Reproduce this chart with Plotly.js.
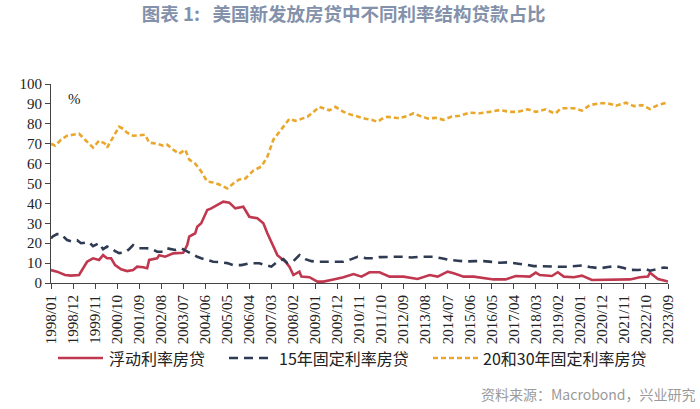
<!DOCTYPE html>
<html>
<head>
<meta charset="utf-8">
<script src="https://cdn.plot.ly/plotly-3.0.1.min.js"></script>
<style>
html,body{margin:0;padding:0;background:#fff;}
#chart{width:700px;height:409px;}
</style>
</head>
<body>
<div id="chart"></div>
<script>
// x-axis tick labels (every 11 months)
const tickLabels = ['1998/01','1998/12','1999/11','2000/10','2001/09','2002/08','2003/07','2004/06','2005/05','2006/04','2007/03','2008/02','2009/01','2009/12','2010/11','2011/10','2012/09','2013/08','2014/07','2015/06','2016/05','2017/04','2018/03','2019/02','2020/01','2020/12','2021/11','2022/10','2023/09'];

// series names
const seriesNames = ['浮动利率房贷','15年固定利率房贷','20和30年固定利率房贷'];

// 浮动利率房贷
const floatDates = ['1998/01','1998/04','1998/08','1998/11','1999/03','1999/04','1999/07','1999/10','2000/01','2000/03','2000/05','2000/07','2000/09','2000/12','2001/03','2001/06','2001/08','2001/11','2002/01','2002/02','2002/06','2002/07','2002/10','2003/02','2003/07','2003/09','2003/10','2004/01','2004/02','2004/04','2004/07','2004/09','2004/12','2005/03','2005/06','2005/09','2006/01','2006/04','2006/08','2006/11','2007/01','2007/04','2007/06','2007/10','2007/12','2008/02','2008/05','2008/06','2008/10','2009/02','2009/05','2009/10','2010/03','2010/08','2010/12','2011/04','2011/09','2012/02','2012/09','2013/04','2013/10','2014/02','2014/07','2014/10','2015/03','2015/08','2016/03','2016/06','2016/12','2017/05','2017/12','2018/03','2018/05','2018/11','2019/02','2019/05','2019/10','2020/02','2020/07','2021/01','2021/08','2022/02','2022/07','2022/11','2022/12','2023/04','2023/07','2023/09'];
const floatVals = [6.5,5.7,4.0,3.7,4.0,5.7,10.7,12.4,11.6,14.0,12.4,12.4,9.0,6.9,6.0,6.5,8.2,7.9,7.4,11.6,12.4,14.0,13.2,14.9,15.2,19.1,23.3,25.0,28.3,30.0,36.7,37.5,39.2,40.9,40.4,37.5,38.3,33.3,32.5,30.0,25.0,18.3,14.0,10.7,8.2,4.0,5.7,3.2,2.9,0.7,0.7,1.8,2.9,4.5,3.2,5.4,5.4,3.2,3.2,2.0,4.0,3.2,5.7,4.9,3.2,3.2,2.4,1.8,1.8,3.5,3.2,5.2,4.0,3.5,5.4,3.2,2.9,3.7,1.5,1.5,1.5,1.8,2.9,3.2,5.2,2.0,1.2,0.7];

// 15年固定利率房贷
const fix15Dates = ['1998/01','1998/02','1998/04','1998/06','1998/09','1998/11','1999/02','1999/04','1999/08','1999/10','2000/01','2000/03','2000/05','2000/07','2000/09','2000/11','2001/02','2001/04','2001/06','2001/09','2001/12','2002/03','2002/06','2002/09','2002/11','2003/03','2003/06','2003/09','2003/11','2004/02','2004/04','2004/07','2004/10','2005/01','2005/05','2005/08','2005/12','2006/04','2006/09','2006/12','2007/03','2007/06','2007/09','2007/11','2008/02','2008/05','2008/08','2008/11','2009/02','2009/08','2010/03','2010/07','2010/10','2011/02','2011/06','2011/09','2012/01','2012/05','2012/09','2013/01','2013/05','2013/09','2013/12','2014/04','2014/08','2014/12','2015/04','2015/09','2016/01','2016/05','2016/09','2017/01','2017/06','2017/10','2018/02','2018/06','2018/10','2019/02','2019/07','2019/10','2020/02','2020/06','2020/11','2021/03','2021/07','2021/11','2022/02','2022/06','2022/10','2022/12','2023/03','2023/07','2023/09'];
const fix15Vals = [22.4,23.5,24.6,24.5,21.6,21.0,21.5,20.0,20.5,18.5,20.0,17.0,18.3,17.5,16.0,15.0,15.5,17.0,19.0,17.5,17.5,17.3,15.7,15.7,17.4,16.6,17.4,15.7,14.5,13.2,12.4,11.5,10.7,10.5,10.0,9.0,9.0,9.9,9.9,9.0,8.2,10.7,12.0,10.0,11.0,14.0,12.0,11.0,10.7,10.7,10.7,12.0,13.2,12.5,12.4,13.0,13.2,13.2,13.2,12.8,13.2,13.2,13.2,12.4,11.6,11.2,10.8,11.0,11.0,10.6,10.2,10.4,9.9,9.2,8.5,8.3,8.3,8.2,8.2,8.4,8.8,8.0,7.4,8.0,8.5,7.5,6.6,6.5,6.9,6.2,7.0,7.8,7.5];

// 20和30年固定利率房贷
const fix30Dates = ['1998/01','1998/03','1998/06','1998/09','1998/12','1999/03','1999/06','1999/10','2000/01','2000/04','2000/05','2000/08','2000/11','2001/01','2001/03','2001/06','2001/10','2001/12','2002/02','2002/06','2002/09','2002/11','2003/02','2003/05','2003/08','2003/10','2004/01','2004/04','2004/07','2004/10','2005/01','2005/03','2005/05','2005/08','2005/11','2006/02','2006/06','2006/10','2007/01','2007/04','2007/07','2007/10','2007/12','2008/03','2008/07','2008/09','2009/03','2009/06','2009/08','2009/11','2010/03','2010/07','2010/10','2011/02','2011/05','2011/08','2011/11','2012/01','2012/05','2012/07','2012/11','2013/02','2013/05','2013/09','2014/01','2014/05','2014/09','2015/01','2015/06','2015/11','2016/04','2016/09','2017/02','2017/06','2017/11','2018/03','2018/08','2018/11','2019/01','2019/03','2019/05','2019/10','2020/02','2020/06','2020/11','2021/03','2021/07','2021/12','2022/04','2022/08','2022/12','2023/04','2023/09'];
const fix30Vals = [70,69,72,74,74.5,75,72,68,71.5,70,68,73,78.5,77.5,75.5,74,74.5,74.5,70.5,70,69,69.5,67,65,67,62,60,56,51,50.5,49.5,48.5,47.5,50,52,52.5,56.5,58.5,63.5,72,76,80,82.5,81.5,83,83.5,88.5,87.5,86.8,88.5,86,84.5,83.5,82.5,82,81,83,83.5,83,82.8,84,85.3,84,82.7,83,82,83.6,84,85.6,85.3,86,86.9,86,86,87.3,86,87.3,85.8,85.3,87.3,87.8,87.8,86.6,89.4,90.3,90.3,89.1,90.6,88.9,89.4,87.4,89.4,90.8];

function monthIndex(s){ const p = s.split('/').map(Number); return (p[0]-1998)*12 + (p[1]-1); }

const serif = 'Liberation Serif, Times New Roman, serif';
const cjk = 'Noto Sans CJK SC';

const colors = ['#c0384f','#2e3b52','#e9a72c'];
const dashes = ['solid','9px,6px','5px,3px'];

const traces = [
  {x: floatDates.map(monthIndex), y: floatVals, type:'scatter', mode:'lines', name:seriesNames[0],
   line:{color:colors[0], width:2.6, dash:dashes[0]}},
  {x: fix15Dates.map(monthIndex), y: fix15Vals, type:'scatter', mode:'lines', name:seriesNames[1],
   line:{color:colors[1], width:2.6, dash:dashes[1]}},
  {x: fix30Dates.map(monthIndex), y: fix30Vals, type:'scatter', mode:'lines', name:seriesNames[2],
   line:{color:colors[2], width:2.6, dash:dashes[2]}}
];

// custom legend (paper coordinates)
const plotW = 700-51-32, plotH = 409-84-126;
const px = v => (v-51)/plotW;
const py = v => (409-126-v)/plotH;
const legendItems = [{x0:58, x1:103, tx:107},{x0:229, x1:274, tx:277},{x0:433, x1:478, tx:481}];
const legendY = 358;
const shapes = legendItems.map((it,i)=>({type:'line', xref:'paper', yref:'paper',
  x0:px(it.x0), x1:px(it.x1), y0:py(legendY), y1:py(legendY),
  line:{color:colors[i], width:2.6, dash:dashes[i]}}));
const legendAnn = legendItems.map((it,i)=>({text:seriesNames[i], xref:'paper', yref:'paper',
  x:px(it.tx), xanchor:'left', y:py(legendY), yanchor:'middle', showarrow:false,
  font:{family:cjk, size:16, color:'#222'}}));

const layout = {
  width:700, height:409,
  margin:{l:51, r:32, t:84, b:126},
  paper_bgcolor:'#fff', plot_bgcolor:'#fff',
  showlegend:false,
  title:{text:'<b>图表 1:   美国新发放房贷中不同利率结构贷款占比</b>', x:0.491, xanchor:'center', y:0.965, yanchor:'middle',
         font:{family:cjk, size:18.5, color:'#8391aa'}},
  xaxis:{range:[0,308], tickmode:'array', tickvals:tickLabels.map(monthIndex), ticktext:tickLabels,
         tickangle:-90, ticks:'outside', ticklen:5, tickcolor:'#444', tickwidth:1,
         showline:true, linecolor:'#444', linewidth:1, showgrid:false, zeroline:false,
         tickfont:{family:serif, size:15, color:'#222'}},
  yaxis:{range:[0,100], tickmode:'linear', tick0:0, dtick:10, ticks:'outside', ticklen:5,
         tickcolor:'#444', tickwidth:1, showline:true, linecolor:'#444', linewidth:1,
         showgrid:false, zeroline:false, tickfont:{family:serif, size:15, color:'#222'}},
  shapes: shapes,
  annotations:[
    {text:'%', xref:'paper', yref:'paper', x:px(74), xanchor:'center', y:py(99), yanchor:'middle', showarrow:false,
     font:{family:serif, size:15, color:'#222'}},
    {text:'资料来源：Macrobond，兴业研究', xref:'paper', yref:'paper', x:px(698), xanchor:'right',
     y:py(394), yanchor:'middle', showarrow:false, font:{family:cjk, size:14, color:'#9a9a9a'}}
  ].concat(legendAnn)
};

Plotly.newPlot('chart', traces, layout, {displayModeBar:false, staticPlot:true});
</script>
</body>
</html>
